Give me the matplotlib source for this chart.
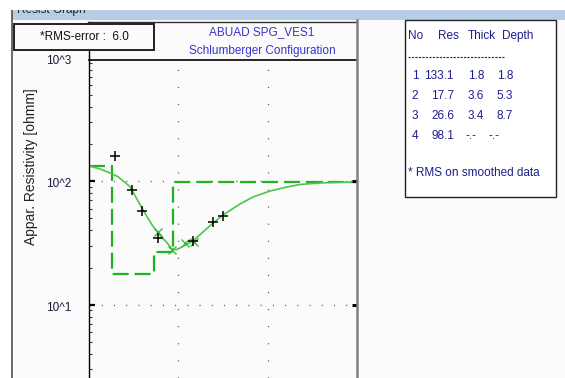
import matplotlib
matplotlib.use("Agg")
import matplotlib.pyplot as plt
from matplotlib.lines import Line2D
from matplotlib.patches import Rectangle
from matplotlib.transforms import blended_transform_factory

plt.rcParams['font.family'] = ['Liberation Sans Narrow', 'Liberation Sans', 'DejaVu Sans']
plt.rcParams['lines.scale_dashes'] = False

# ---- layered model (from inversion table) ----
layer_no = [1, 2, 3, 4]
layer_res = [133.1, 17.7, 26.6, 98.1]
layer_thick = [1.8, 3.6, 3.4, None]
layer_depth = [1.8, 5.3, 8.7, None]

# ---- field sounding data: AB/2 [m], apparent resistivity [ohmm] ----
field_ab2 = [1.95, 3.01, 3.92, 5.93, 14.6, 24.5, 31.7]
field_rho = [160.0, 85.0, 57.5, 34.7, 32.9, 46.8, 51.9]

# smoothed data points
smooth_ab2 = [5.93, 8.39, 11.9, 15.0]
smooth_rho = [38.9, 27.8, 31.5, 32.3]

# ---- model response curve ----
curve_ab2 = [1.0, 1.33, 1.72, 2.11, 2.88, 4.02, 5.08, 5.93, 7.47, 8.50, 9.42,
             10.45, 14.6, 24.5, 31.7, 49.1, 68.6, 106.4, 164.9, 230.6, 386.0,
             647.0, 1000.0]
curve_rho = [133.0, 125.8, 116.7, 109.0, 90.4, 58.6, 44.3, 38.1, 31.7, 28.3, 27.9,
             28.8, 32.9, 45.9, 53.4, 65.5, 74.6, 83.4, 89.9, 94.2, 96.9,
             98.1, 98.1]

x_min, x_max = 1.0, 1000.0
y_min, y_max = 2.55, 960.0
decades = [1000, 100, 10]
decade_labels = ["10^3", "10^2", "10^1"]

W, H = 565, 378
fig = plt.figure(figsize=(W / 100, H / 100), dpi=100)
fig.patch.set_facecolor('white')


def fx(px):
    return px / W


def fy(py):
    return 1 - py / H


# window background and title strip
fig.patches.append(Rectangle((fx(12), 0), fx(W) - fx(12), fy(20), transform=fig.transFigure,
                             facecolor='#fbfbfb', edgecolor='none', zorder=-2))
fig.patches.append(Rectangle((fx(12), fy(20)), 1 - fx(12), fy(10) - fy(20),
                             transform=fig.transFigure, facecolor='#b7cde4',
                             edgecolor='none', zorder=-2))
fig.text(fx(17), fy(12.5), "Resist Graph", fontsize=8.5, color='#202030',
         ha='left', va='baseline', zorder=2)
fig.patches.append(Rectangle((0, fy(9.5)), 1, 1 - fy(9.5), transform=fig.transFigure,
                             facecolor='white', edgecolor='none', zorder=3))
fig.lines.append(Line2D([fx(12), fx(12)], [fy(10), 0], transform=fig.transFigure,
                        color='#505050', lw=1.2, zorder=3))

# main axes
ax = fig.add_axes([fx(89), 0, fx(357) - fx(89), fy(60)])
ax.set_zorder(1)
ax.set_facecolor('#fbfbfb')
ax.set_xscale('log')
ax.set_yscale('log')
ax.set_xlim(x_min, x_max)
ax.set_ylim(y_min, y_max)
for s in ['bottom', 'right', 'left']:
    ax.spines[s].set_visible(False)
ax.spines['top'].set_color('black')
ax.spines['top'].set_linewidth(1.2)

ax.xaxis.set_visible(False)
ax.yaxis.set_ticks_position('left')
ax.tick_params(axis='y', which='major', direction='in', length=4.5, width=1.6,
               color='black', labelleft=False)
ax.tick_params(axis='y', which='minor', direction='in', length=2.5, width=0.8,
               color='#333333')

# dotted grid
for d in [100, 10]:
    ax.axhline(d, color='#555555', lw=0.9, ls=(0, (0.8, 8.0)), zorder=1)
for d in [10, 100]:
    ax.axvline(d, color='#555555', lw=0.9, ls=(0, (0.8, 11.5)), zorder=1)

# right-side decade marks
for d in [100, 10]:
    ax.plot([x_max / 1.14, x_max], [d, d], color='black', lw=2.2,
            solid_capstyle='butt', zorder=4)

# model step function from the layer table
step_x, step_y = [x_min], [layer_res[0]]
for i, dep in enumerate(layer_depth[:-1]):
    step_x += [dep, dep]
    step_y += [layer_res[i], layer_res[i + 1]]
step_x.append(x_max)
step_y.append(layer_res[-1])
ax.plot(step_x, step_y, color='#1fb31f', lw=1.6, dashes=(11.5, 4.3), zorder=3)

# model curve
ax.plot(curve_ab2, curve_rho, color='#4cc64c', lw=1.2, zorder=3)

# data markers
ax.plot(smooth_ab2, smooth_rho, ls='none', marker='x', ms=5.5, mew=1.0,
        color='#3cbf3c', zorder=5)
ax.plot(field_ab2, field_rho, ls='none', marker='+', ms=7, mew=1.1,
        color='black', zorder=6)

# frame lines around plot and title box
fig.lines.append(Line2D([fx(88.5), fx(88.5)], [fy(22), 0], transform=fig.transFigure,
                        color='black', lw=1.0, zorder=3))
fig.lines.append(Line2D([fx(88), fx(357)], [fy(22), fy(22)], transform=fig.transFigure,
                        color='#333333', lw=1.0, zorder=3))
fig.lines.append(Line2D([fx(357), fx(357)], [fy(20), 0], transform=fig.transFigure,
                        color='#808080', lw=1.8, zorder=3))

# decade labels on y axis
ytrans = blended_transform_factory(fig.transFigure, ax.transData)
for d, lab in zip(decades, decade_labels):
    fig.text(fx(58.5), d * 10 ** (-3.0 / 123.5), lab, transform=ytrans, ha='center',
             va='center', fontsize=8.5, color='#1a1a3a', zorder=4)

fig.text(fx(31), fy(167), "Appar. Resistivity [ohmm]", rotation=90, ha='center',
         va='center', fontsize=10, color='#222222', zorder=4)

# titles
fig.text(fx(262), fy(32), "ABUAD SPG_VES1", ha='center', va='center',
         fontsize=8.5, color='#3a32cc', zorder=4)
fig.text(fx(262), fy(51), "Schlumberger Configuration", ha='center', va='center',
         fontsize=8.5, color='#3a32cc', zorder=4)

# RMS box
fig.patches.append(Rectangle((fx(14), fy(50)), fx(154) - fx(14), fy(24) - fy(50),
                             transform=fig.transFigure, facecolor='#fbfbfb',
                             edgecolor='#222222', lw=1.4, zorder=5))
fig.text(fx(84), fy(37.5), "*RMS-error :  6.0", ha='center', va='center',
         fontsize=8.5, color='#111111', zorder=6)

# layer table panel
fig.patches.append(Rectangle((fx(405), fy(197)), fx(556) - fx(405), fy(20) - fy(197),
                             transform=fig.transFigure, facecolor='white',
                             edgecolor='#222222', lw=1.0, zorder=5))
navy = '#1e1e8c'
fs_t = 8.5
for txt, px in zip(["No", "Res", "Thick", "Depth"], [408, 438, 468, 502]):
    fig.text(fx(px), fy(36), txt, ha='left', va='center', fontsize=fs_t, color=navy, zorder=6)
fig.lines.append(Line2D([fx(408), fx(505)], [fy(57), fy(57)], transform=fig.transFigure,
                        color=navy, lw=0.8, ls=(0, (1.6, 0.9)), zorder=6))


def fmt(v):
    return "-.-" if v is None else f"{v:.1f}"


row_y = [76, 96, 116, 136]
for i, ry in enumerate(row_y):
    fig.text(fx(415), fy(ry), str(layer_no[i]), ha='center', va='center',
             fontsize=fs_t, color=navy, zorder=6)
    fig.text(fx(454), fy(ry), fmt(layer_res[i]), ha='right', va='center',
             fontsize=fs_t, color=navy, zorder=6)
    if layer_thick[i] is None:
        fig.text(fx(466), fy(ry), "-.-", ha='left', va='center', fontsize=fs_t, color=navy, zorder=6)
        fig.text(fx(489), fy(ry), "-.-", ha='left', va='center', fontsize=fs_t, color=navy, zorder=6)
    else:
        fig.text(fx(484), fy(ry), fmt(layer_thick[i]), ha='right', va='center',
                 fontsize=fs_t, color=navy, zorder=6)
        fig.text(fx(513), fy(ry), fmt(layer_depth[i]), ha='right', va='center',
                 fontsize=fs_t, color=navy, zorder=6)

fig.text(fx(408), fy(173), "* RMS on smoothed data", ha='left', va='center',
         fontsize=fs_t, color=navy, zorder=6)

fig.savefig("out.png", dpi=100, facecolor='white')
